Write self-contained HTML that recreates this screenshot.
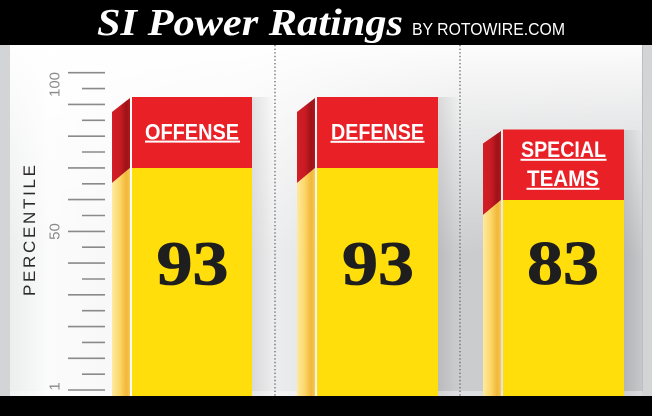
<!DOCTYPE html>
<html>
<head>
<meta charset="utf-8">
<style>
  html, body { margin:0; padding:0; background:#000; }
  body { width:652px; height:416px; overflow:hidden; }
  svg { display:block; }
</style>
</head>
<body>
<svg width="652" height="416" viewBox="0 0 652 416" xmlns="http://www.w3.org/2000/svg">
  <defs>
    <linearGradient id="bgH" x1="0" y1="0" x2="1" y2="0">
      <stop offset="0" stop-color="#eceded"/>
      <stop offset="0.06" stop-color="#fbfbfb"/>
      <stop offset="0.38" stop-color="#f1f1f2"/>
      <stop offset="0.5" stop-color="#e2e3e5"/>
      <stop offset="0.72" stop-color="#cbccce"/>
      <stop offset="1" stop-color="#c6c7ca"/>
    </linearGradient>
    <linearGradient id="bgV" x1="0" y1="0" x2="0" y2="1">
      <stop offset="0" stop-color="#ffffff" stop-opacity="0.95"/>
      <stop offset="0.25" stop-color="#ffffff" stop-opacity="0.55"/>
      <stop offset="0.6" stop-color="#ffffff" stop-opacity="0"/>
    </linearGradient>
    <linearGradient id="sideRed" x1="0" y1="0" x2="1" y2="0">
      <stop offset="0" stop-color="#d31e26"/>
      <stop offset="0.45" stop-color="#c91b23"/>
      <stop offset="0.8" stop-color="#9d1218"/>
      <stop offset="1" stop-color="#b3161d"/>
    </linearGradient>
    <linearGradient id="sideYel" x1="0" y1="0" x2="1" y2="0">
      <stop offset="0" stop-color="#fee9a2"/>
      <stop offset="0.4" stop-color="#fcd96c"/>
      <stop offset="0.8" stop-color="#f2b73a"/>
      <stop offset="1" stop-color="#f6ca52"/>
    </linearGradient>
    <linearGradient id="shadowR" x1="0" y1="0" x2="1" y2="0">
      <stop offset="0" stop-color="#000" stop-opacity="0.1"/>
      <stop offset="1" stop-color="#000" stop-opacity="0"/>
    </linearGradient>
  </defs>

  <!-- header / footer -->
  <rect x="0" y="0" width="652" height="45" fill="#000"/>
  <rect x="0" y="396" width="652" height="20" fill="#000"/>

  <!-- background panel -->
  <rect x="10" y="45" width="633" height="351" fill="url(#bgH)"/>
  <rect x="10" y="45" width="633" height="351" fill="url(#bgV)"/>
  <!-- left / right strips -->
  <rect x="0" y="45" width="10" height="351" fill="#d2d4d6"/>
  <rect x="642" y="45" width="1" height="351" fill="#bdbec1"/>
  <rect x="643" y="45" width="9" height="351" fill="#d3d4d6"/>

  <!-- shadows right of bars -->
  <rect x="252" y="97" width="22" height="299" fill="url(#shadowR)"/>
  <rect x="438" y="97" width="22" height="299" fill="url(#shadowR)"/>
  <rect x="624" y="130" width="18" height="266" fill="url(#shadowR)"/>
  <!-- floor strip -->
  <rect x="10" y="391" width="633" height="5" fill="#ffffff" opacity="0.35"/>

  <!-- dotted separators -->
  <line x1="275" y1="45" x2="275" y2="396" stroke="#6a6a6a" stroke-width="1.3" stroke-dasharray="1.4 2.2"/>
  <line x1="460" y1="45" x2="460" y2="396" stroke="#6a6a6a" stroke-width="1.3" stroke-dasharray="1.4 2.2"/>

  <!-- ticks -->
  <g stroke="#8a8a8a" stroke-width="1.6">
    <line x1="68" y1="72.7" x2="105" y2="72.7"/>
    <line x1="82" y1="88.6" x2="105" y2="88.6"/>
    <line x1="68" y1="104.4" x2="105" y2="104.4"/>
    <line x1="82" y1="120.3" x2="105" y2="120.3"/>
    <line x1="68" y1="136.2" x2="105" y2="136.2"/>
    <line x1="82" y1="152.0" x2="105" y2="152.0"/>
    <line x1="68" y1="167.9" x2="105" y2="167.9"/>
    <line x1="82" y1="183.8" x2="105" y2="183.8"/>
    <line x1="68" y1="199.6" x2="105" y2="199.6"/>
    <line x1="82" y1="215.5" x2="105" y2="215.5"/>
    <line x1="68" y1="231.4" x2="105" y2="231.4"/>
    <line x1="82" y1="247.2" x2="105" y2="247.2"/>
    <line x1="68" y1="263.1" x2="105" y2="263.1"/>
    <line x1="82" y1="279.0" x2="105" y2="279.0"/>
    <line x1="68" y1="294.8" x2="105" y2="294.8"/>
    <line x1="82" y1="310.7" x2="105" y2="310.7"/>
    <line x1="68" y1="326.6" x2="105" y2="326.6"/>
    <line x1="82" y1="342.4" x2="105" y2="342.4"/>
    <line x1="68" y1="358.3" x2="105" y2="358.3"/>
    <line x1="82" y1="374.2" x2="105" y2="374.2"/>
    <line x1="68" y1="390.0" x2="105" y2="390.0"/>
  </g>

  <!-- tick labels -->
  <g font-family="'Liberation Sans', sans-serif" font-size="15" fill="#8a8a8a">
    <text transform="translate(59.3,97) rotate(-90)" text-anchor="start" textLength="25" lengthAdjust="spacingAndGlyphs">100</text>
    <text transform="translate(59.3,231.5) rotate(-90)" text-anchor="middle">50</text>
    <text transform="translate(59.3,386.5) rotate(-90)" text-anchor="middle">1</text>
  </g>

  <!-- axis title -->
  <text transform="translate(35,230.5) rotate(-90)" text-anchor="middle" font-family="'Liberation Sans', sans-serif" font-size="17" fill="#2a2a2a" textLength="131" lengthAdjust="spacing">PERCENTILE</text>

  <!-- Bar 1: OFFENSE -->
  <polygon points="112,112 130,98 130,168 112,183" fill="url(#sideRed)"/>
  <polygon points="112,183 130,168 130,396 112,396" fill="url(#sideYel)"/>
  <rect x="130" y="98" width="2" height="298" fill="#ffffff" opacity="0.45"/>
  <rect x="132" y="97" width="120" height="71" fill="#ea2027"/>
  <rect x="132" y="168" width="120" height="228" fill="#ffde0b"/>

  <!-- Bar 2: DEFENSE -->
  <polygon points="297,112 315,98 315,168 297,183" fill="url(#sideRed)"/>
  <polygon points="297,183 315,168 315,396 297,396" fill="url(#sideYel)"/>
  <rect x="315" y="98" width="2" height="298" fill="#ffffff" opacity="0.45"/>
  <rect x="317" y="97" width="121" height="71" fill="#ea2027"/>
  <rect x="317" y="168" width="121" height="228" fill="#ffde0b"/>

  <!-- Bar 3: SPECIAL TEAMS -->
  <polygon points="483,143.5 501,131 501,200 483,215" fill="url(#sideRed)"/>
  <polygon points="483,215 501,200 501,396 483,396" fill="url(#sideYel)"/>
  <rect x="501" y="131" width="2" height="265" fill="#ffffff" opacity="0.45"/>
  <rect x="503" y="129.5" width="121" height="70.5" fill="#ea2027"/>
  <rect x="503" y="200" width="121" height="196" fill="#ffde0b"/>

  <!-- bar labels -->
  <g font-family="'Liberation Sans', sans-serif" font-weight="bold" font-size="22" fill="#ffffff" text-anchor="middle">
    <text x="192" y="139.3" textLength="94" lengthAdjust="spacingAndGlyphs">OFFENSE</text>
    <text x="377.5" y="139.3" textLength="93" lengthAdjust="spacingAndGlyphs">DEFENSE</text>
    <text x="563.5" y="156.8" textLength="85" lengthAdjust="spacingAndGlyphs">SPECIAL</text>
    <text x="563" y="185.8" textLength="72" lengthAdjust="spacingAndGlyphs">TEAMS</text>
  </g>
  <g fill="#ffffff">
    <rect x="145" y="140.6" width="95" height="2"/>
    <rect x="330.5" y="140.8" width="94" height="2"/>
    <rect x="520.5" y="158.8" width="86" height="2"/>
    <rect x="526.5" y="187.8" width="73" height="2"/>
  </g>

  <!-- values -->
  <g font-family="'Liberation Serif', serif" font-weight="bold" font-size="62" fill="#1e1e1e" stroke="#1e1e1e" stroke-width="0.8" text-anchor="middle">
    <text x="192.5" y="284.5" textLength="72" lengthAdjust="spacingAndGlyphs">93</text>
    <text x="378" y="284.5" textLength="72" lengthAdjust="spacingAndGlyphs">93</text>
    <text x="563" y="284" textLength="72" lengthAdjust="spacingAndGlyphs">83</text>
  </g>

  <!-- title -->
  <text x="97" y="35" font-family="'Liberation Serif', serif" font-weight="bold" font-style="italic" font-size="38" fill="#ffffff" textLength="306" lengthAdjust="spacingAndGlyphs">SI Power Ratings</text>
  <text x="412" y="35" font-family="'Liberation Sans', sans-serif" font-size="17.5" fill="#ffffff" textLength="153" lengthAdjust="spacingAndGlyphs">BY ROTOWIRE.COM</text>
</svg>
</body>
</html>
